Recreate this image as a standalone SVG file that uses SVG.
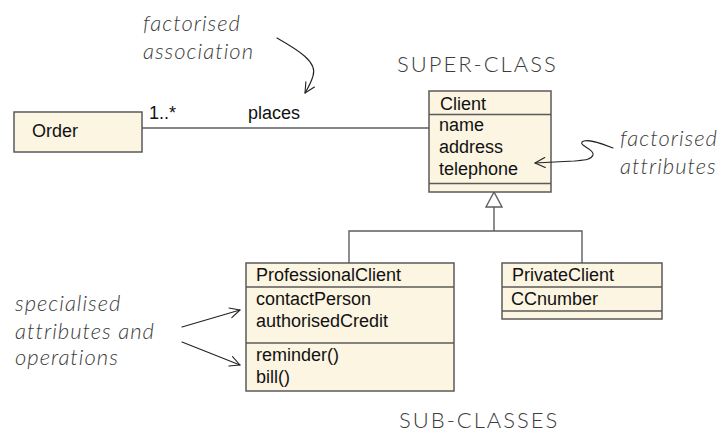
<svg xmlns="http://www.w3.org/2000/svg" width="720" height="432" viewBox="0 0 720 432">
  <style>
    .box { fill: #fcf5e2; stroke: #5a5a5a; stroke-width: 1.5; }
    .div { stroke: #5a5a5a; stroke-width: 1.5; }
    .uml { font-family: "Liberation Sans", Arial, sans-serif; font-size: 18px; fill: #111; }
    .link { fill: none; stroke: #5e5e5e; stroke-width: 1.4; }
    .hand { font-family: Lato, "Open Sans", sans-serif; font-style: italic; font-weight: 300; font-size: 22px; fill: #3c3c3c; letter-spacing: 1px; }
    .caps { font-family: Lato, "Open Sans", sans-serif; font-weight: 300; font-size: 22px; fill: #3c3c3c; letter-spacing: 2px; }
    .note { fill: none; stroke: #222; stroke-width: 1.1; stroke-linecap: round; stroke-linejoin: round; }
  </style>
  <defs>
    <marker id="open-v" viewBox="0 0 12 12" refX="11" refY="6" markerWidth="12" markerHeight="12" markerUnits="userSpaceOnUse" orient="auto">
      <path d="M1,1 L11,6 L1,11" fill="none" stroke="#222" stroke-width="1.1" stroke-linecap="round" stroke-linejoin="round"/>
    </marker>
  </defs>

  <!-- connectors: association and generalisation tree -->
  <g id="connectors">
    <line class="link" x1="142" y1="128" x2="429" y2="128"/>
    <text class="uml" x="149" y="119">1..*</text>
    <text class="uml" x="248" y="119">places</text>
    <polyline class="link" points="349,263 349,231 582,231 582,263"/>
    <line class="link" x1="494" y1="207" x2="494" y2="231"/>
    <polygon points="494,192 486,207 502,207" fill="#fff" stroke="#5e5e5e" stroke-width="1.4"/>
  </g>

  <g id="order">
    <rect class="box" x="14" y="112" width="128" height="40"/>
    <text class="uml" x="32" y="137">Order</text>
  </g>

  <g id="client">
    <rect class="box" x="429" y="91" width="122" height="101"/>
    <line class="div" x1="429" y1="114.5" x2="551" y2="114.5"/>
    <line class="div" x1="429" y1="183.5" x2="551" y2="183.5"/>
    <text class="uml" x="440" y="110">Client</text>
    <text class="uml" x="439" y="131">name</text>
    <text class="uml" x="439" y="153">address</text>
    <text class="uml" x="439" y="175">telephone</text>
  </g>

  <g id="professional-client">
    <rect class="box" x="246" y="263" width="208" height="128"/>
    <line class="div" x1="246" y1="287" x2="454" y2="287"/>
    <line class="div" x1="246" y1="343" x2="454" y2="343"/>
    <text class="uml" x="256" y="281">ProfessionalClient</text>
    <text class="uml" x="256" y="305">contactPerson</text>
    <text class="uml" x="256" y="327">authorisedCredit</text>
    <text class="uml" x="256" y="361">reminder()</text>
    <text class="uml" x="256" y="383">bill()</text>
  </g>

  <g id="private-client">
    <rect class="box" x="502" y="263" width="160" height="56"/>
    <line class="div" x1="502" y1="287" x2="662" y2="287"/>
    <line class="div" x1="502" y1="311" x2="662" y2="311"/>
    <text class="uml" x="512" y="281">PrivateClient</text>
    <text class="uml" x="511" y="305">CCnumber</text>
  </g>

  <!-- hand-written notes -->
  <g id="note-association">
    <text class="hand" x="143" y="31">factorised</text>
    <text class="hand" x="143" y="59">association</text>
    <path class="note" d="M277,38 C298,50 318,62 313,76 C311,83 308,88 305,93" marker-end="url(#open-v)"/>
  </g>

  <g id="note-attributes">
    <text class="hand" x="620" y="146">factorised</text>
    <text class="hand" x="620" y="174">attributes</text>
    <path class="note" d="M613,148 C600,143 586,138 582,142 C579,146 595,149 593,155 C591,160 584,160 574,161 L535,163" marker-end="url(#open-v)"/>
  </g>

  <g id="note-specialised">
    <text class="hand" x="15" y="311">specialised</text>
    <text class="hand" x="15" y="339">attributes and</text>
    <text class="hand" x="15" y="365">operations</text>
    <line class="note" x1="182" y1="327" x2="240" y2="310" marker-end="url(#open-v)"/>
    <line class="note" x1="182" y1="342" x2="240" y2="365" marker-end="url(#open-v)"/>
  </g>

  <text id="super-class" class="caps" x="397" y="72">SUPER-CLASS</text>
  <text id="sub-classes" class="caps" x="399" y="428">SUB-CLASSES</text>
</svg>
